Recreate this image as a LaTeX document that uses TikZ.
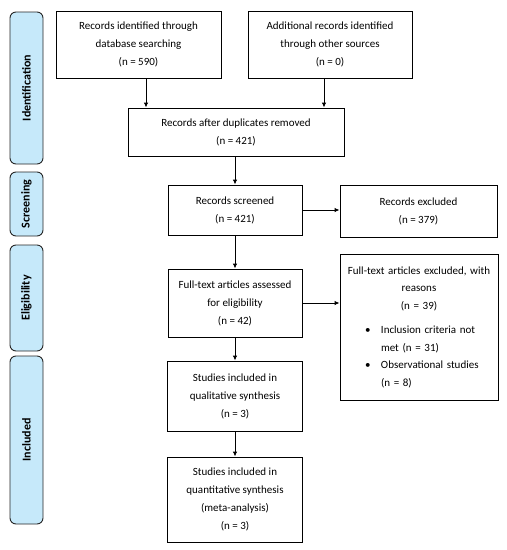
\documentclass[tikz,border=0pt]{standalone}
\usepackage{fontspec}
\setmainfont{Carlito}
\usetikzlibrary{arrows.meta,calc}
\definecolor{tabblue}{HTML}{C6E9FA}
\begin{document}
\begin{tikzpicture}[x=1pt,y=-1pt,
  box/.style={draw=black,line width=0.9pt,align=center,font=\fontsize{11}{18}\selectfont,inner sep=2pt},
  tab/.style={draw=black!85,line width=0.9pt,fill=tabblue,rounded corners=6pt,rotate=90,minimum height=33pt,inner sep=0pt,font=\fontsize{12}{13}\selectfont\bfseries},
  arr/.style={-{Latex[length=5pt,width=4.5pt]},line width=0.9pt}]
\useasboundingbox (0,0) rectangle (507,550);
% phase tabs
\node[tab,minimum width=152pt] (tid) at (26.5,88) {Identification};
\node[tab,minimum width=64pt] (tsc) at (26.5,204) {Screening};
\node[tab,minimum width=106pt] (tel) at (26.5,298) {Eligibility};
\node[tab,minimum width=168pt] (tin) at (26.5,440) {Included};
% boxes
\node[box,minimum width=165pt,minimum height=67pt] (b1) at (138.5,44.5) {Records identified through\\database searching\\(n = 590)};
\node[box,minimum width=164pt,minimum height=67pt] (b2) at (330,44.5) {Additional records identified\\through other sources\\(n = 0)};
\node[box,minimum width=216pt,minimum height=48pt] (b3) at (236,132) {Records after duplicates removed\\(n = 421)};
\node[box,minimum width=134pt,minimum height=50pt] (b4) at (235,210) {Records screened\\(n = 421)};
\node[box,minimum width=157pt,minimum height=52pt] (b5) at (418.5,211) {Records excluded\\(n = 379)};
\node[box,minimum width=134pt,minimum height=68pt] (b6) at (235,303) {Full-text articles assessed\\for eligibility\\(n = 42)};
\node[box,minimum width=158pt,minimum height=146pt,text width=152pt,align=left,font=\fontsize{11}{17.5}\selectfont] (b7) at (419,327) {%
  \centering Full-text articles excluded, with\\reasons\\(n = 39)\par
  \vspace{7pt}\raggedright
  \hspace*{22pt}\makebox[16pt][l]{\textbullet}Inclusion criteria not\\
  \hspace*{38pt}met (n = 31)\\
  \hspace*{22pt}\makebox[16pt][l]{\textbullet}Observational studies\\
  \hspace*{38pt}(n = 8)\par};
\node[box,minimum width=135pt,minimum height=70pt] (b8) at (235,396) {Studies included in\\qualitative synthesis\\(n = 3)};
\node[box,minimum width=135pt,minimum height=85pt] (b9) at (235,499.5) {Studies included in\\quantitative synthesis\\(meta-analysis)\\(n = 3)};
% connectors
\draw[arr] ([xshift=7.5pt]b1.south) -- ([xshift=7.5pt]b1.south |- b3.north);
\draw[arr] ([xshift=-6pt]b2.south) -- ([xshift=-6pt]b2.south |- b3.north);
\draw[arr] ([xshift=-1pt]b3.south) -- (b4.north);
\draw[arr] (b4.east) -- (b4.east -| b5.west);
\draw[arr] (b4.south) -- (b6.north);
\draw[arr] (b6.east) -- (b6.east -| b7.west);
\draw[arr] (b6.south) -- (b8.north);
\draw[arr] (b8.south) -- (b9.north);
\end{tikzpicture}
\end{document}
